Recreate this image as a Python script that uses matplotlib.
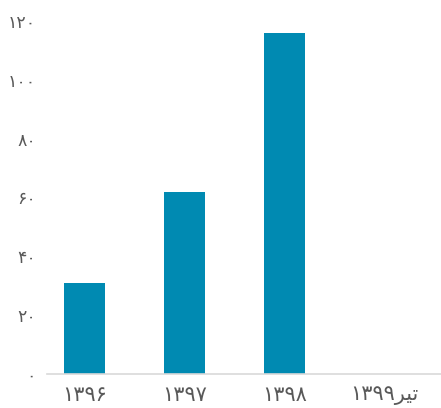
import matplotlib.pyplot as plt

# data
categories = ["۱۳۹۶", "۱۳۹۷", "۱۳۹۸", "۱۳۹۹" + "\ufeae\ufbff\ufe97"]
values = [31, 62, 116, 0]
y_ticks = [0, 20, 40, 60, 80, 100, 120]
y_tick_labels = ["۰", "۲۰", "۴۰", "۶۰", "۸۰", "۱۰۰", "۱۲۰"]

bar_color = "#008AB2"
label_gray = "#595959"
axis_gray = "#D9D9D9"

plt.rcParams["font.family"] = ["DejaVu Sans"]

fig = plt.figure(figsize=(4.41, 4.08), dpi=100)
ax = fig.add_axes([47 / 441, 34 / 408, 394 / 441, 353 / 408])

positions = list(range(len(categories)))
ax.bar(positions, values, width=0.41, color=bar_color)

ax.set_xlim(-0.38, 3.57)
ax.set_ylim(0, 120)
ax.set_xticks(positions)
ax.set_xticklabels(categories)
ax.set_yticks(y_ticks)
ax.set_yticklabels(y_tick_labels)

ax.tick_params(axis="both", length=0, colors=label_gray)
ax.tick_params(axis="y", pad=8, labelsize=12.5)
ax.tick_params(axis="x", pad=8, labelsize=15)

for side in ["top", "right", "left"]:
    ax.spines[side].set_visible(False)
ax.spines["bottom"].set_color(axis_gray)
ax.spines["bottom"].set_linewidth(1.2)

fig.savefig("out.png", dpi=100)
